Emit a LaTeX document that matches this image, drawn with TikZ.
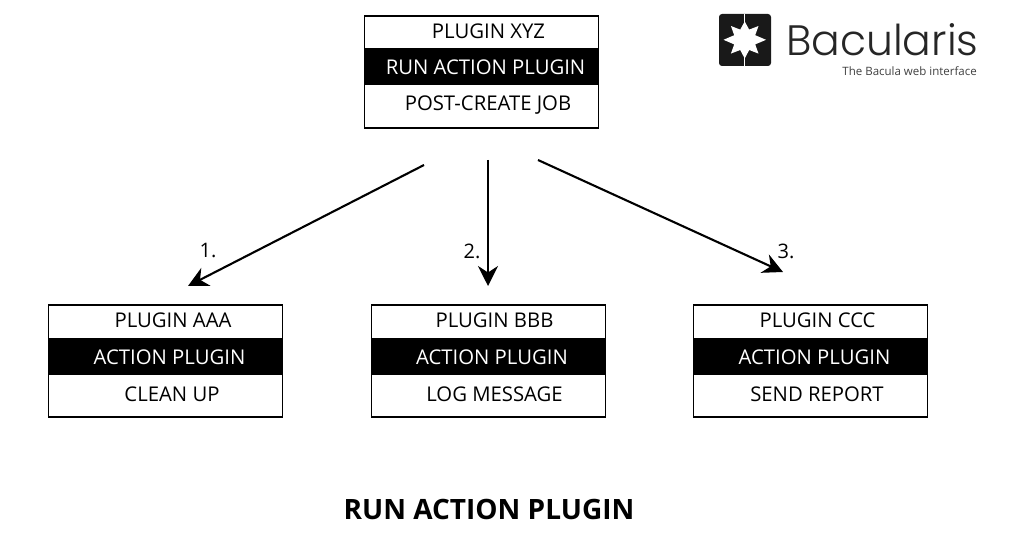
\documentclass[tikz,border=0pt]{standalone}
\usepackage{fontspec}
\setmainfont{Open Sans}
\newfontfamily\logofont{Poppins Light}
\usetikzlibrary{arrows.meta}
\tikzset{
  pluginbox/.style={draw=black,line width=1.9pt,fill=white,minimum width=234pt,minimum height=112pt,inner sep=0pt,anchor=north west},
  band/.style={fill=black,minimum width=234pt,minimum height=37pt,inner sep=0pt,anchor=north west},
  lbl/.style={font=\fontsize{20.3}{21}\selectfont,inner sep=0pt,text=black},
  invlbl/.style={lbl,text=white},
  numlbl/.style={font=\fontsize{20}{20}\selectfont,inner sep=0pt},
  flow/.style={line width=2.1pt,-{Stealth[length=20pt,width=20pt]}}
}
\begin{document}
\begin{tikzpicture}[x=1pt,y=-1pt]
\useasboundingbox (0,0) rectangle (1024,545);
\fill[white] (0,0) rectangle (1024,545);
% top box
\node[pluginbox] (xyz) at (363.5,15) {};
\node[band] (xyzb) at (363.5,48) {};
\node[lbl] (xyz1) at (488.5,31) {PLUGIN XYZ};
\node[invlbl] (xyz2) at (485.5,67) {RUN ACTION PLUGIN};
\node[lbl] (xyz3) at (488,105) {POST-CREATE JOB};
% lower boxes
\node[pluginbox] (a) at (47.5,304) {};
\node[band] (ab) at (47.5,338) {};
\node[lbl] (a1) at (173,320) {PLUGIN AAA};
\node[invlbl] (a2) at (169.5,357) {ACTION PLUGIN};
\node[lbl] (a3) at (172,394) {CLEAN UP};
\node[pluginbox] (b) at (370.5,304) {};
\node[band] (bb) at (370.5,338) {};
\node[lbl] (b1) at (494.5,320) {PLUGIN BBB};
\node[invlbl] (b2) at (492,357) {ACTION PLUGIN};
\node[lbl] (b3) at (494.5,394) {LOG MESSAGE};
\node[pluginbox] (c) at (692.5,304) {};
\node[band] (cb) at (692.5,338) {};
\node[lbl] (c1) at (817.5,320) {PLUGIN CCC};
\node[invlbl] (c2) at (814.5,357) {ACTION PLUGIN};
\node[lbl] (c3) at (817,394) {SEND REPORT};
% connectors
\coordinate (s1) at (424,165);
\coordinate (e1) at (188,286);
\coordinate (s2) at (488,160);
\coordinate (e2) at (488,286);
\coordinate (s3) at (538,160);
\coordinate (e3) at (783,272);
\draw[flow] (s1) -- (e1);
\draw[flow] (s2) -- (e2);
\draw[flow] (s3) -- (e3);
\node[numlbl] (n1) at (208,251) {1.};
\node[numlbl] (n2) at (472,251) {2.};
\node[numlbl] (n3) at (786,251) {3.};
% title
\node[inner sep=0pt,font=\fontsize{28}{28}\selectfont\bfseries] (title) at (489,509) {RUN ACTION PLUGIN};
% logo
\fill[black!90,rounded corners=3pt] (719,14) rectangle (771,66);
\fill[white] (744.3,14) rectangle (745.2,24);
\fill[white] (744.3,56) rectangle (745.2,66);
\fill[white] (744.7,21.5) -- (749.2,29.6) -- (758.5,26) -- (755.2,35.2) -- (766,39.8) -- (755.2,44.4) -- (758.5,53.6) -- (749.2,50) -- (744.7,58.5) -- (740.2,50) -- (730.9,53.6) -- (734.2,44.4) -- (723.5,39.8) -- (734.2,35.2) -- (730.9,26) -- (740.2,29.6) -- cycle;
\node[anchor=base west,inner sep=0pt,font=\logofont\fontsize{42.5}{43}\selectfont,text=black!85] (logo) at (786,56) {Bacularis};
\node[anchor=base east,inner sep=0pt,font=\fontsize{11.5}{11.5}\selectfont,text=black!75] (tag) at (977,76) {The Bacula web interface};
\end{tikzpicture}
\end{document}
